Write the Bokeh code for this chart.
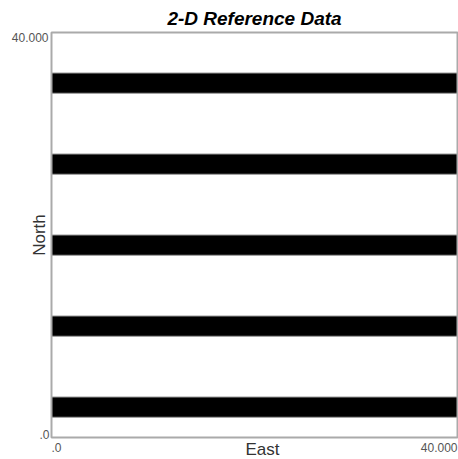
from bokeh.plotting import figure
from bokeh.models import Range1d, Label
from bokeh.embed import file_html
from bokeh.resources import INLINE

# ---- Data ----
band_bottom = [2, 10, 18, 26, 34]
band_top = [4, 12, 20, 28, 36]
x_min, x_max = 0, 40
y_min, y_max = 0, 40
x_tick_vals = [0, 40]
x_tick_labels = [".0", "40.000"]
y_tick_vals = [0, 40]
y_tick_labels = [".0", "40.000"]
title_text = "2-D Reference Data"
x_label = "East"
y_label = "North"

# ---- Layout (pixels on the canvas) ----
W, H = 458, 459
FRAME_L, FRAME_R, FRAME_T, FRAME_B = 51, 457, 32, 437
FONT = "Liberation Sans"

# data ranges extended so that the plotting box lands on the frame position
sx = (FRAME_R - FRAME_L) / (x_max - x_min)
sy = (FRAME_B - FRAME_T) / (y_max - y_min)
x_start = x_min - FRAME_L / sx
x_end = x_max + (W - FRAME_R) / sx
y_start = y_min - (H - FRAME_B) / sy
y_end = y_max + FRAME_T / sy

p = figure(width=W, height=H, output_backend="svg", toolbar_location=None,
           x_range=Range1d(x_start, x_end), y_range=Range1d(y_start, y_end),
           x_axis_type=None, y_axis_type=None,
           min_border_left=0, min_border_right=0, min_border_top=0, min_border_bottom=0)
p.background_fill_color = "white"
p.border_fill_color = "white"
p.outline_line_color = None
p.grid.visible = False

# bands
p.quad(left=[x_min] * len(band_bottom), right=[x_max] * len(band_bottom),
       bottom=band_bottom, top=band_top,
       fill_color="black", line_color="#999999", line_width=1)

# plot box
p.quad(left=[x_min], right=[x_max], bottom=[y_min], top=[y_max],
       fill_color=None, line_color="#aaaaaa", line_width=2)

# title
p.add_layout(Label(x=(x_min + x_max) / 2, y=y_max, text=title_text,
                   text_align="center", text_baseline="middle", y_offset=14,
                   text_font=FONT, text_font_size="19px", text_font_style="bold italic",
                   text_color="black"))

# axis titles
ax_kw = dict(text_font=FONT, text_font_size="17px", text_color="#333333",
             text_baseline="middle")
p.add_layout(Label(x=(x_min + x_max) / 2, y=y_min, text=x_label, text_align="center",
                   x_offset=8, y_offset=-12, **ax_kw))
p.add_layout(Label(x=x_min, y=(y_min + y_max) / 2, text=y_label, text_align="center",
                   angle=90, angle_units="deg", x_offset=-12, **ax_kw))

# tick labels
tk_kw = dict(text_font=FONT, text_font_size="12px", text_color="#555555",
             text_baseline="middle")
p.add_layout(Label(x=x_min, y=y_tick_vals[1], text=y_tick_labels[1], text_align="right",
                   x_offset=-3, y_offset=-5, **tk_kw))
p.add_layout(Label(x=x_min, y=y_tick_vals[0], text=y_tick_labels[0], text_align="right",
                   x_offset=-2, y_offset=3, **tk_kw))
p.add_layout(Label(x=x_tick_vals[0], y=y_min, text=x_tick_labels[0], text_align="left",
                   x_offset=0, y_offset=-10, **tk_kw))
p.add_layout(Label(x=x_tick_vals[1], y=y_min, text=x_tick_labels[1], text_align="right",
                   x_offset=0, y_offset=-10, **tk_kw))

open("out.html", "w").write(file_html(p, INLINE))
